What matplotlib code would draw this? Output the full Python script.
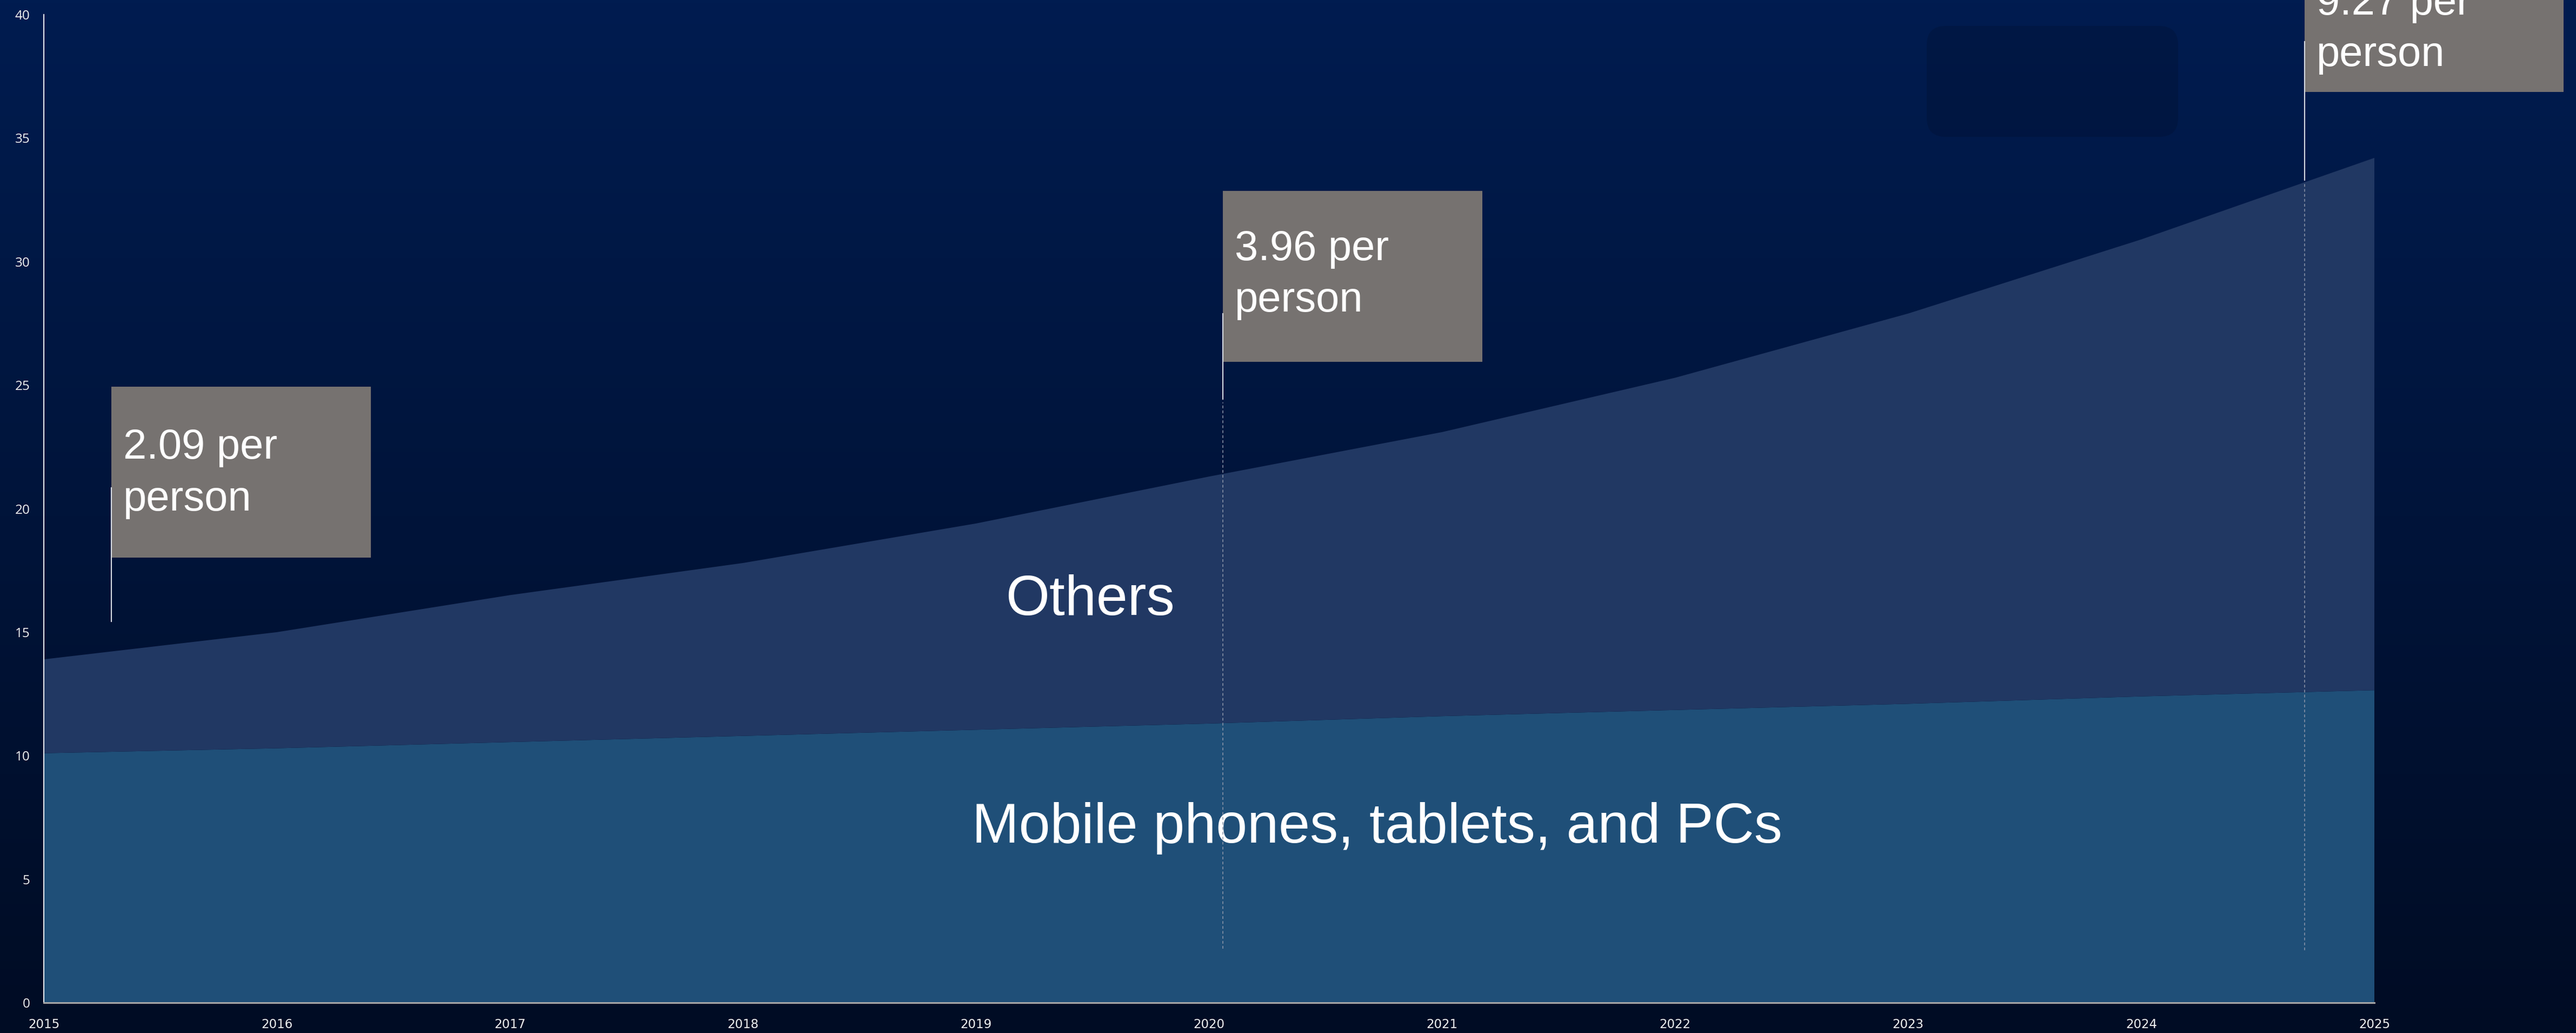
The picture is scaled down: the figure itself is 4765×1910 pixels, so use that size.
import numpy as np
import matplotlib
matplotlib.use("Agg")
import matplotlib.pyplot as plt
from matplotlib.patches import Rectangle, FancyBboxPatch
from matplotlib.colors import LinearSegmentedColormap
from matplotlib.transforms import IdentityTransform

# data
years = [2015, 2016, 2017, 2018, 2019, 2020, 2021, 2022, 2023, 2024, 2025]
mobile = [10.1, 10.3, 10.55, 10.8, 11.05, 11.3, 11.6, 11.85, 12.1, 12.4, 12.65]
others = [3.8, 4.7, 5.95, 7.0, 8.35, 10.0, 11.5, 13.45, 15.8, 18.5, 21.55]
series_names = ["Mobile phones, tablets, and PCs", "Others"]
per_person = ["2.09", "3.96", "9.27"]
y_ticks = [0, 5, 10, 15, 20, 25, 30, 35, 40]

# colours
c_mobile = "#1f4f78"
c_others = "#213863"
c_box = "#767270"

# callout layout (x in years, y in axis units)
call_x = [2015.29, 2020.06, 2024.70]
box_bottom = [18.02, 25.95, 36.86]
solid_span = [(15.44, 20.85), (24.44, 27.9), (33.31, 38.9)]
dash_span = [None, (2.19, 24.3), (2.12, 33.2)]
text_base = [19.93, 27.97, 37.91]   # baseline of the last line
box_w = 1.113
box_h = 6.92

fig = plt.figure(figsize=(47.65, 19.1), dpi=100)

#background gradient
bg = fig.add_axes([0, 0, 1, 1], zorder=-10)
cmap = LinearSegmentedColormap.from_list("bg", ["#001c50", "#000c24"])
bg.imshow(np.linspace(0, 1, 256).reshape(-1, 1), aspect="auto", cmap=cmap,
          extent=[0, 1, 0, 1])
bg.axis("off")

#dark rounded panel in the top right
panel = FancyBboxPatch((3564, 1910 - 253), 465, 205,
                       boxstyle="round,pad=0,rounding_size=35",
                       transform=IdentityTransform(), facecolor="black",
                       alpha=0.12, edgecolor="none")
fig.patches.append(panel)

ax = fig.add_axes([81 / 4765, 56 / 1910, (4392 - 81) / 4765, (1854 - 27) / 1910])
ax.set_facecolor("none")
ax.stackplot(years, mobile, others, colors=[c_mobile, c_others],
             labels=series_names, linewidth=0)

ax.set_xlim(2015, 2025)
ax.set_ylim(0, 40)
ax.set_xticks(years)
ax.set_xticklabels([str(y) for y in years], fontsize=16.5, color="#f0f0f0",
                   family="DejaVu Sans")
ax.set_yticks(y_ticks)
ax.set_yticklabels([str(t) for t in y_ticks], fontsize=17.5, color="#f0f0f0",
                   family="Open Sans")
ax.tick_params(axis="x", length=0, pad=21)
ax.tick_params(axis="y", length=0, pad=18.5)

for s in ["top", "right"]:
    ax.spines[s].set_visible(False)
ax.spines["left"].set_color("white")
ax.spines["left"].set_linewidth(1.5)
ax.spines["bottom"].set_color("#a6a6a6")
ax.spines["bottom"].set_linewidth(2.2)

#series labels
ax.text(2019.49, 15.70, series_names[1], fontsize=75, color="white",
        family="Liberation Sans", ha="center", va="baseline")
ax.text(2020.72, 6.48, series_names[0], fontsize=75, color="white",
        family="Liberation Sans", ha="center", va="baseline")

#per person callouts
for i in range(len(per_person)):
    x = call_x[i]
    ax.add_patch(Rectangle((x, box_bottom[i]), box_w, box_h, facecolor=c_box,
                           edgecolor="none", clip_on=False, zorder=4))
    ax.plot([x, x], solid_span[i], color="#d8dce4", lw=1.5, clip_on=False,
            zorder=5)
    if dash_span[i] is not None:
        ax.plot([x, x], dash_span[i], color="#8e97aa", lw=1.1,
                linestyle=(0, (3.3, 2.7)), clip_on=False, zorder=5)
    ax.text(x + 0.051, text_base[i], per_person[i] + " per\nperson",
            fontsize=56, color="white", family="Liberation Sans",
            ha="left", va="baseline", linespacing=1.4, zorder=6,
            clip_on=False)

fig.savefig("out.png", dpi=100)
